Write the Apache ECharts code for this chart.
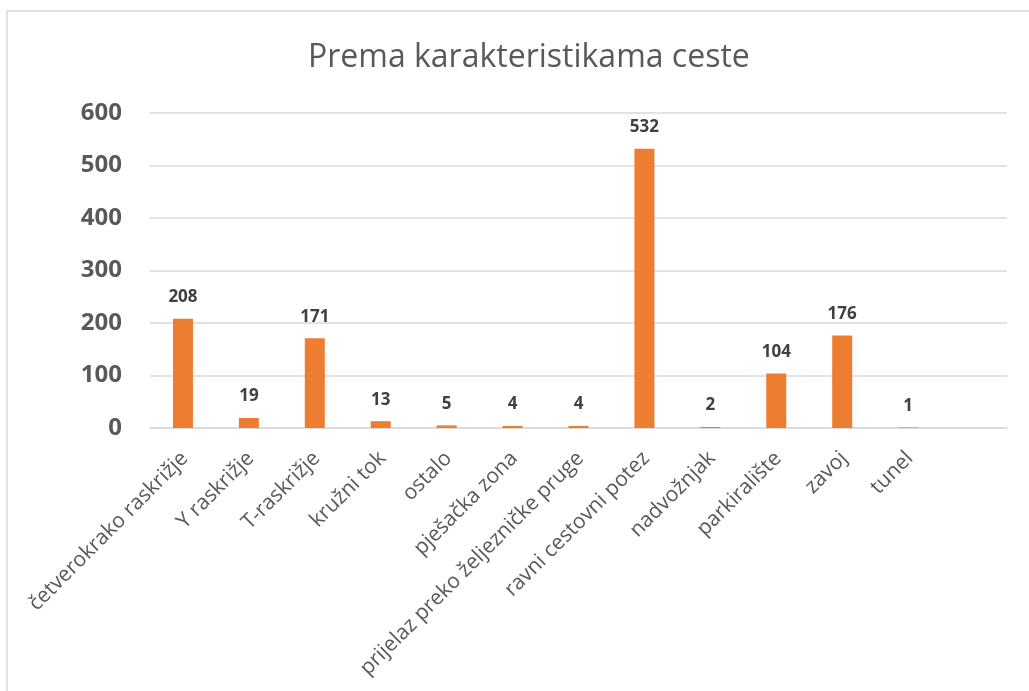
<!DOCTYPE html>
<html>
<head>
<meta charset="utf-8">
<script src="https://cdn.jsdelivr.net/npm/echarts@6/dist/echarts.min.js"></script>
<style>
html,body{margin:0;padding:0;background:#fff;}
#chart{width:1029px;height:691px;}
</style>
</head>
<body>
<div id="chart"></div>
<script>
const titleText = "Prema karakteristikama ceste";
const categories = ["četverokrako raskrižje","Y raskrižje","T-raskrižje","kružni tok","ostalo","pješačka zona","prijelaz preko željezničke pruge","ravni cestovni potez","nadvožnjak","parkiralište","zavoj","tunel",""];
const values = [208,19,171,13,5,4,4,532,2,104,176,1,null];
const yTicks = [0,100,200,300,400,500,600];

const chart = echarts.init(document.getElementById('chart'), null, {renderer:'canvas'});
chart.setOption({
  animation:false,
  backgroundColor:'#fff',
  graphic:[{type:'rect',shape:{x:7,y:11,width:1200,height:900},style:{fill:'none',stroke:'#d9d9d9',lineWidth:1.5},silent:true}],
  title:{text:titleText,left:303,top:37,textStyle:{fontFamily:'Open Sans',fontSize:32,fontWeight:'normal',color:'#595959'}},
  grid:{left:150,right:22,top:113,bottom:263,containLabel:false},
  xAxis:{type:'category',data:categories,
    axisLine:{lineStyle:{color:'#d9d9d9',width:1.5}},axisTick:{show:false},
    axisLabel:{interval:0,rotate:45,margin:14,verticalAlign:'top',padding:[0,8,0,0],fontFamily:'Open Sans',fontSize:21,color:'#595959'}},
  yAxis:{type:'value',min:yTicks[0],max:yTicks[yTicks.length-1],interval:100,
    axisLine:{show:false},axisTick:{show:false},
    splitLine:{lineStyle:{color:'#d9d9d9',width:1.5}},
    axisLabel:{margin:28,fontFamily:'Open Sans',fontSize:24,fontWeight:'bold',color:'#595959'}},
  series:[{type:'bar',data:values,barWidth:20,itemStyle:{color:'#ED7D31'},
    label:{show:true,position:'top',distance:13,fontFamily:'Open Sans',fontSize:17,fontWeight:'bold',color:'#404040'}}]
});
</script>
</body>
</html>
